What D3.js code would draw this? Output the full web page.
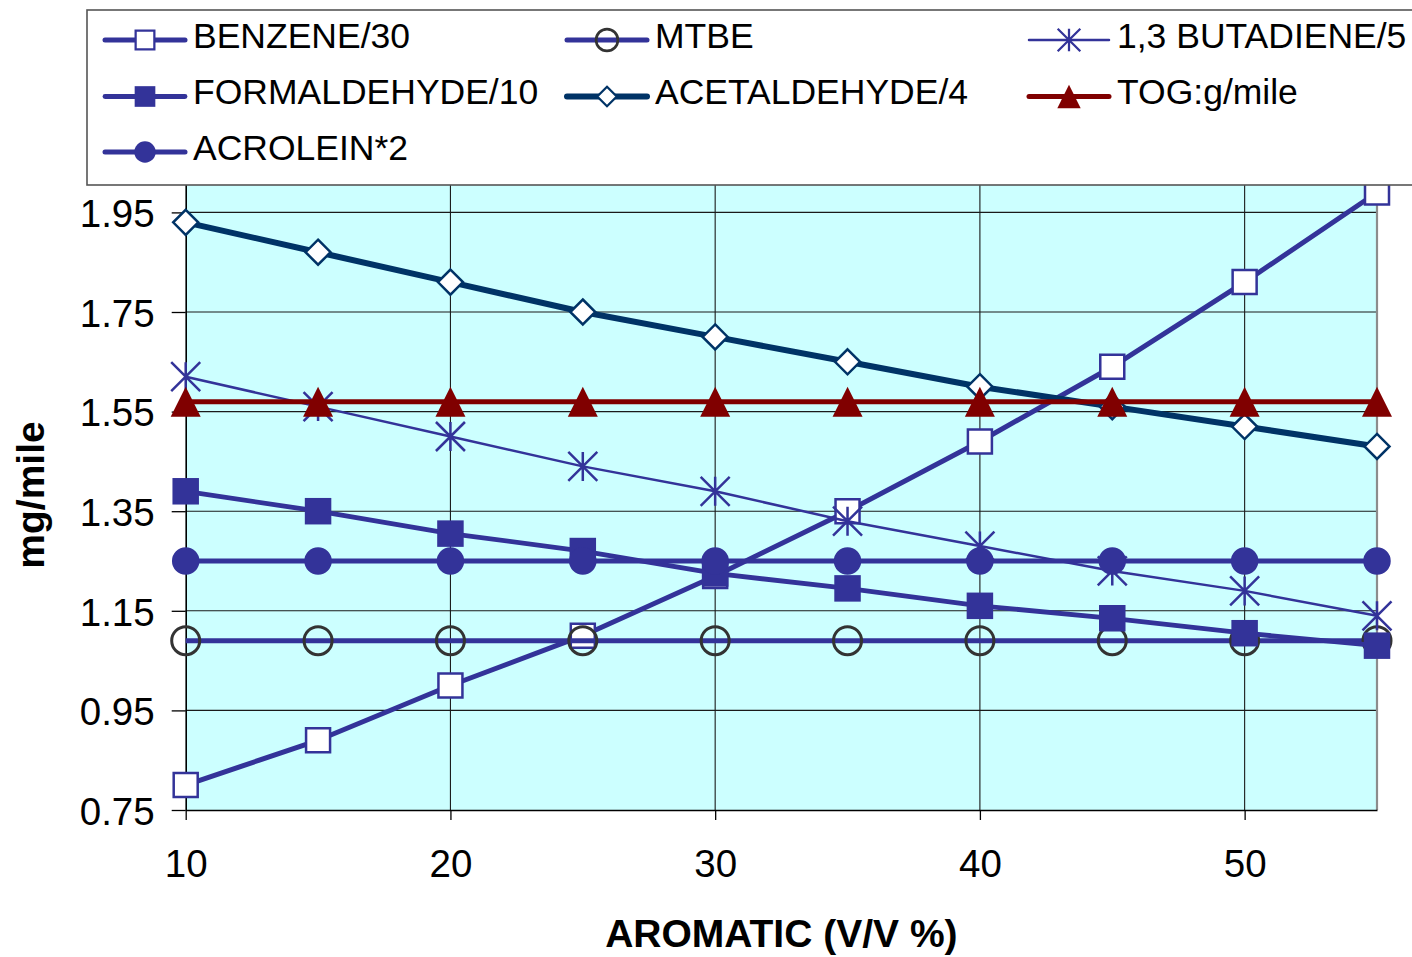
<!DOCTYPE html>
<html>
<head>
<meta charset="utf-8">
<script src="https://cdn.jsdelivr.net/npm/d3@7"></script>
<style>
  html, body { margin: 0; padding: 0; background: #fff; }
  svg { display: block; font-family: "Liberation Sans", Arial, sans-serif; }
</style>
</head>
<body>
<svg id="chart" width="1412" height="957"></svg>
<script>
// Aromatic content (V/V %) on the x axis
const aromatic = [10, 15, 20, 25, 30, 35, 40, 45, 50, 55];

// Scaled emissions per series (mg/mile, TOG in g/mile)
const benzene      = [0.80, 0.89, 1.00, 1.10, 1.22, 1.35, 1.49, 1.64, 1.81, 1.99];
const mtbe         = [1.09, 1.09, 1.09, 1.09, 1.09, 1.09, 1.09, 1.09, 1.09, 1.09];
const butadiene    = [1.62, 1.56, 1.50, 1.44, 1.39, 1.33, 1.28, 1.23, 1.19, 1.14];
const formaldehyde = [1.39, 1.35, 1.305, 1.27, 1.225, 1.195, 1.16, 1.135, 1.105, 1.08];
const acetaldehyde = [1.93, 1.87, 1.81, 1.75, 1.70, 1.65, 1.60, 1.56, 1.52, 1.48];
const tog          = [1.57, 1.57, 1.57, 1.57, 1.57, 1.57, 1.57, 1.57, 1.57, 1.57];
const acrolein     = [1.25, 1.25, 1.25, 1.25, 1.25, 1.25, 1.25, 1.25, 1.25, 1.25];

const seriesNames = ["BENZENE/30", "MTBE", "1,3 BUTADIENE/5", "FORMALDEHYDE/10",
                     "ACETALDEHYDE/4", "TOG:g/mile", "ACROLEIN*2"];

// Axis ticks
const xTicks = [10, 20, 30, 40, 50];
const yTicks = [0.75, 0.95, 1.15, 1.35, 1.55, 1.75, 1.95];

// Series table with drawing styles
const series = [
  { name: seriesNames[0], values: benzene,      line: "#333399", lw: 5,   marker: "square",   size: 24,   fill: "#ffffff", stroke: "#333399", sw: 2.5 },
  { name: seriesNames[1], values: mtbe,         line: "#333399", lw: 5,   marker: "circle",   size: 28,   fill: "none",    stroke: "#333333", sw: 3 },
  { name: seriesNames[2], values: butadiene,    line: "#333399", lw: 2.5, marker: "asterisk", size: 29,   fill: "none",    stroke: "#333399", sw: 2.5 },
  { name: seriesNames[3], values: formaldehyde, line: "#333399", lw: 4.8, marker: "square",   size: 26.5, fill: "#333399", stroke: "none",    sw: 0 },
  { name: seriesNames[4], values: acetaldehyde, line: "#003366", lw: 6,   marker: "diamond",  size: 25,   fill: "#ffffff", stroke: "#003366", sw: 2.5 },
  { name: seriesNames[5], values: tog,          line: "#800000", lw: 5,   marker: "triangle", size: 30,   fill: "#800000", stroke: "none",    sw: 0 },
  { name: seriesNames[6], values: acrolein,     line: "#333399", lw: 5,   marker: "circle",   size: 27.5, fill: "#333399", stroke: "none",    sw: 0 }
];

function markerPath(type, s) {
  const h = s / 2;
  switch (type) {
    case "square":   return `M${-h},${-h}H${h}V${h}H${-h}Z`;
    case "circle":   return d3.symbol(d3.symbolCircle, Math.PI * h * h)();
    case "diamond":  return `M0,${-h}L${h},0L0,${h}L${-h},0Z`;
    case "triangle": return `M0,${-h}L${h},${h}L${-h},${h}Z`;
    case "asterisk": return `M0,${-h}V${h}M${-h},${-h}L${h},${h}M${h},${-h}L${-h},${h}`;
  }
}

const svg = d3.select("#chart");

const x = d3.scaleLinear().domain([10, 55]).range([185.7, 1377]);
const y = d3.scaleLinear().domain([0.75, 2.05]).range([810, 810 - 1.3 * 498]);

const [x0, x1] = x.range();
const [yb, yt] = y.range();

// Plot background
svg.append("rect")
  .attr("x", x0).attr("y", yt)
  .attr("width", x1 - x0).attr("height", yb - yt)
  .attr("fill", "#ccffff");

// Gridlines
const grid = svg.append("g").attr("stroke", "#1a1a1a").attr("stroke-width", 1.1);
grid.selectAll("line.h").data(yTicks.slice(1)).join("line")
  .attr("class", "h")
  .attr("x1", x0).attr("x2", x1)
  .attr("y1", d => y(d)).attr("y2", d => y(d));
grid.selectAll("line.v").data(xTicks.slice(1)).join("line")
  .attr("class", "v")
  .attr("x1", d => x(d)).attr("x2", d => x(d))
  .attr("y1", yt).attr("y2", yb);

// Right border of the plot area
svg.append("line")
  .attr("x1", x1).attr("x2", x1).attr("y1", yt).attr("y2", yb)
  .attr("stroke", "#8c8c8c").attr("stroke-width", 2.2);

// Axes
const yAxis = svg.append("g")
  .attr("transform", `translate(${x0},0)`)
  .call(d3.axisLeft(y).tickValues(yTicks).tickSize(14).tickSizeOuter(0)
        .tickPadding(17).tickFormat(d3.format(".2f")));
const xAxis = svg.append("g")
  .attr("transform", `translate(0,${yb})`)
  .call(d3.axisBottom(x).tickValues(xTicks).tickSize(10).tickSizeOuter(0)
        .tickPadding(30).tickFormat(d3.format("d")));

[yAxis, xAxis].forEach(g => {
  g.attr("font-family", null).attr("font-size", null);
  g.select(".domain").attr("stroke", "#000").attr("stroke-width", 1.6);
  g.selectAll(".tick line").attr("stroke", "#000").attr("stroke-width", 1.3);
  g.selectAll(".tick text").attr("fill", "#000").style("font-size", "38.5px");
});
yAxis.selectAll(".tick text").attr("dy", "0.37em");
xAxis.selectAll(".tick text").attr("dy", "0.71em");

// Series lines and markers
const line = d3.line().x((d, i) => x(aromatic[i])).y(d => y(d));

series.forEach(s => {
  const g = svg.append("g");
  g.append("path")
    .attr("d", line(s.values))
    .attr("fill", "none")
    .attr("stroke", s.line)
    .attr("stroke-width", s.lw)
    .attr("stroke-linejoin", "round");
  g.selectAll("path.m").data(s.values).join("path")
    .attr("class", "m")
    .attr("transform", (d, i) => `translate(${x(aromatic[i])},${y(d)})`)
    .attr("d", markerPath(s.marker, s.size))
    .attr("fill", s.fill)
    .attr("stroke", s.stroke)
    .attr("stroke-width", s.sw);
});

// Legend
const legend = svg.append("g");
legend.append("rect")
  .attr("x", 87).attr("y", 10).attr("width", 1345).attr("height", 175)
  .attr("fill", "#ffffff").attr("stroke", "#555555").attr("stroke-width", 1.6);

const colX = [105, 567, 1029];
const rowY = [40, 96.5, 152];
const legendScale = 0.78;

series.forEach((s, i) => {
  const cx = colX[i % 3];
  const cy = rowY[Math.floor(i / 3)];
  const item = legend.append("g");
  item.append("line")
    .attr("x1", cx).attr("x2", cx + 80).attr("y1", cy).attr("y2", cy)
    .attr("stroke", s.line).attr("stroke-width", s.lw).attr("stroke-linecap", "round");
  item.append("path")
    .attr("transform", `translate(${cx + 40},${cy})`)
    .attr("d", markerPath(s.marker, s.size * legendScale))
    .attr("fill", s.fill)
    .attr("stroke", s.stroke)
    .attr("stroke-width", s.sw * 0.9);
  item.append("text")
    .attr("x", cx + 88).attr("y", cy + 7.5)
    .attr("font-size", 35.5).attr("fill", "#000")
    .text(s.name);
});

// Axis titles
svg.append("text")
  .attr("transform", "translate(44,495) rotate(-90)")
  .attr("text-anchor", "middle")
  .attr("font-size", 39).attr("font-weight", "bold").attr("fill", "#000")
  .text("mg/mile");

svg.append("text")
  .attr("x", (x0 + x1) / 2).attr("y", 947)
  .attr("text-anchor", "middle")
  .attr("font-size", 39).attr("font-weight", "bold").attr("fill", "#000")
  .text("AROMATIC (V/V %)");
</script>
</body>
</html>
